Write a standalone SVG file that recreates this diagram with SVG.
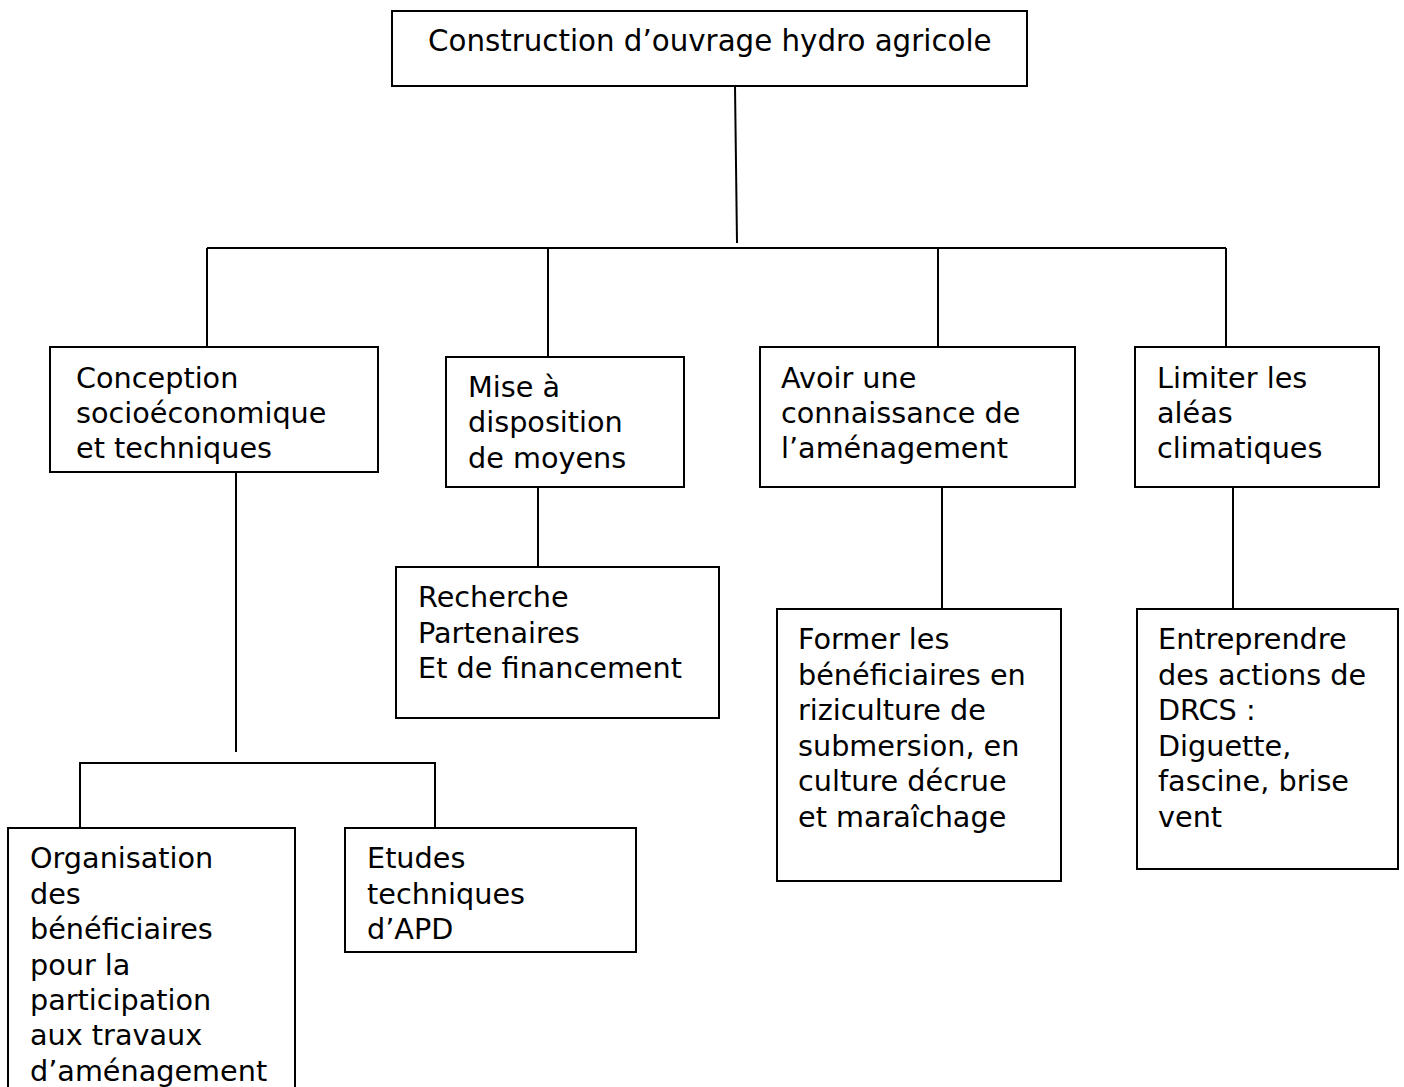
<svg xmlns="http://www.w3.org/2000/svg" width="1404" height="1087" viewBox="0 0 1404 1087">
<style>
.box{fill:#fff;stroke:#000;stroke-width:2}
.ln{fill:none;stroke:#000;stroke-width:2}
text{font-family:"DejaVu Sans","Verdana",sans-serif;font-size:28.7px;fill:#000}
.title{font-size:29.3px}
</style>
<rect width="1404" height="1087" fill="#fff"/>
<g id="connectors">
<line class="ln" x1="735" y1="86" x2="737" y2="243"/>
<line class="ln" x1="207" y1="248" x2="1226" y2="248"/>
<line class="ln" x1="207" y1="248" x2="207" y2="347"/>
<line class="ln" x1="548" y1="248" x2="548" y2="357"/>
<line class="ln" x1="938" y1="248" x2="938" y2="347"/>
<line class="ln" x1="1226" y1="248" x2="1226" y2="347"/>
<line class="ln" x1="236" y1="472" x2="236" y2="752"/>
<polyline class="ln" points="80,828 80,763 435,763 435,828"/>
<line class="ln" x1="538" y1="487" x2="538" y2="567"/>
<line class="ln" x1="942" y1="487" x2="942" y2="609"/>
<line class="ln" x1="1233" y1="487" x2="1233" y2="609"/>
</g>
<g id="n-root">
<rect class="box" x="392" y="11" width="635" height="75"/>
<text class="title" x="428" y="51">Construction d’ouvrage hydro agricole</text>
</g>
<g id="n-conception">
<rect class="box" x="50" y="347" width="328" height="125"/>
<text x="76" y="388">Conception</text>
<text x="76" y="423">socioéconomique</text>
<text x="76" y="458">et techniques</text>
</g>
<g id="n-mise">
<rect class="box" x="446" y="357" width="238" height="130"/>
<text x="468" y="397">Mise à</text>
<text x="468" y="432">disposition</text>
<text x="468" y="468">de moyens</text>
</g>
<g id="n-avoir">
<rect class="box" x="760" y="347" width="315" height="140"/>
<text x="781" y="388">Avoir une</text>
<text x="781" y="423">connaissance de</text>
<text x="781" y="458">l’aménagement</text>
</g>
<g id="n-limiter">
<rect class="box" x="1135" y="347" width="244" height="140"/>
<text x="1157" y="388">Limiter les</text>
<text x="1157" y="423">aléas</text>
<text x="1157" y="458">climatiques</text>
</g>
<g id="n-recherche">
<rect class="box" x="396" y="567" width="323" height="151"/>
<text x="418" y="607">Recherche</text>
<text x="418" y="643">Partenaires</text>
<text x="418" y="678">Et de financement</text>
</g>
<g id="n-former">
<rect class="box" x="777" y="609" width="284" height="272"/>
<text x="798" y="649">Former les</text>
<text x="798" y="685">bénéficiaires en</text>
<text x="798" y="720">riziculture de</text>
<text x="798" y="756">submersion, en</text>
<text x="798" y="791">culture décrue</text>
<text x="798" y="827">et maraîchage</text>
</g>
<g id="n-entreprendre">
<rect class="box" x="1137" y="609" width="261" height="260"/>
<text x="1158" y="649">Entreprendre</text>
<text x="1158" y="685">des actions de</text>
<text x="1158" y="720">DRCS :</text>
<text x="1158" y="756">Diguette,</text>
<text x="1158" y="791">fascine, brise</text>
<text x="1158" y="827">vent</text>
</g>
<g id="n-organisation">
<rect class="box" x="8" y="828" width="287" height="275"/>
<text x="30" y="868">Organisation</text>
<text x="30" y="904">des</text>
<text x="30" y="939">bénéficiaires</text>
<text x="30" y="975">pour la</text>
<text x="30" y="1010">participation</text>
<text x="30" y="1045">aux travaux</text>
<text x="30" y="1081">d’aménagement</text>
</g>
<g id="n-etudes">
<rect class="box" x="345" y="828" width="291" height="124"/>
<text x="367" y="868">Etudes</text>
<text x="367" y="904">techniques</text>
<text x="367" y="939">d’APD</text>
</g>
</svg>
